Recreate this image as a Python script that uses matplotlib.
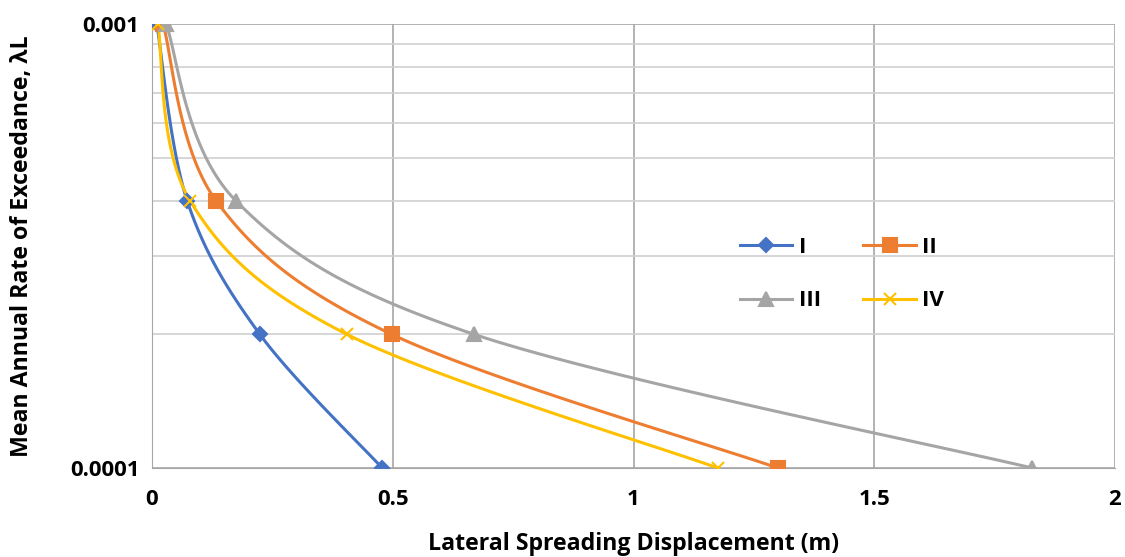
import numpy as np
import matplotlib.pyplot as plt

# Datos
rate = [0.001, 0.0004, 0.0002, 0.0001]
disp_I = [0.010, 0.073, 0.224, 0.478]
disp_II = [0.023, 0.133, 0.498, 1.300]
disp_III = [0.029, 0.174, 0.669, 1.828]
disp_IV = [0.012, 0.079, 0.405, 1.175]
labels = ['I', 'II', 'III', 'IV']

colors = ['#4472C4', '#ED7D31', '#A5A5A5', '#FFC000']
markers = ['D', 's', '^', 'x']
msizes = [7, 10, 10, 8]

plt.rcParams['font.family'] = ['Open Sans', 'DejaVu Sans']
plt.rcParams['font.weight'] = 'bold'

W, H = 963.0, 444.0  # tamaño del area en pixeles


def smooth(xs, ys, n=40):
    # linea suavizada tipo Excel (Bezier en espacio de pantalla)
    u = np.array(xs) / 2.0 * W
    v = np.log10(ys) * H
    P = np.c_[u, v]
    P = np.vstack([P[0], P, P[-1]])
    out = []
    t = np.linspace(0, 1, n)[:, None]
    for i in range(1, len(P) - 2):
        p0, p1 = P[i], P[i + 1]
        c1 = p0 + (P[i + 1] - P[i - 1]) / 6.0
        c2 = p1 - (P[i + 2] - P[i]) / 6.0
        seg = (1 - t) ** 3 * p0 + 3 * (1 - t) ** 2 * t * c1 + 3 * (1 - t) * t ** 2 * c2 + t ** 3 * p1
        out.append(seg)
    c = np.vstack(out)
    return c[:, 0] / W * 2.0, 10 ** (c[:, 1] / H)


fig = plt.figure(figsize=(11.25, 5.57), dpi=100)
ax = fig.add_axes([152 / 1125, 1 - 468 / 557, 963 / 1125, 444 / 557])

handles = []
for xs, lab, col, mk, ms in zip([disp_I, disp_II, disp_III, disp_IV], labels, colors, markers, msizes):
    sx, sy = smooth(xs, rate)
    ax.plot(sx, sy, color=col, lw=2.2, zorder=3)
    ax.plot(xs, rate, ls='none', marker=mk, color=col, ms=ms, mew=1.5, zorder=4)
    h, = ax.plot([], [], color=col, lw=2.2, marker=mk, ms=ms, mew=1.5, label=lab)
    handles.append(h)

ax.set_yscale('log')
ax.set_xlim(0, 2)
ax.set_ylim(0.0001, 0.001)
ax.set_xticks([0, 0.5, 1, 1.5, 2])
ax.set_xticklabels(['0', '0.5', '1', '1.5', '2'])
ax.set_yticks([0.0001, 0.001])
ax.set_yticklabels(['0.0001', '0.001'])
ax.yaxis.set_minor_formatter(plt.NullFormatter())
ax.tick_params(which='both', length=0, labelsize=16, pad=9)
ax.tick_params(axis='x', pad=15)

ax.grid(axis='x', color='#A6A6A6', lw=1.2)
ax.grid(axis='y', which='major', color='#A6A6A6', lw=1.2)
ax.grid(axis='y', which='minor', color='#D0D0D0', lw=1.2)
ax.set_axisbelow(True)
for s in ['top', 'right']:
    ax.spines[s].set_visible(False)
for s in ['left', 'bottom']:
    ax.spines[s].set_color('#A6A6A6')

ax.set_xlabel('Lateral Spreading Displacement (m)', fontsize=16.7, fontweight='bold', labelpad=16)
ax.set_ylabel('Mean Annual Rate of Exceedance, λL', fontsize=16.7, fontweight='bold', labelpad=26)

# orden por filas: I, II / III, IV
order = [0, 2, 1, 3]
ax.legend([handles[i] for i in order], [labels[i] for i in order],
          loc='upper left', bbox_to_anchor=(0.59, 0.565), ncol=2, frameon=False,
          fontsize=16, handlelength=2.35, labelspacing=1.45, columnspacing=1.9,
          handletextpad=0.3)

fig.savefig('out.png', dpi=100)
